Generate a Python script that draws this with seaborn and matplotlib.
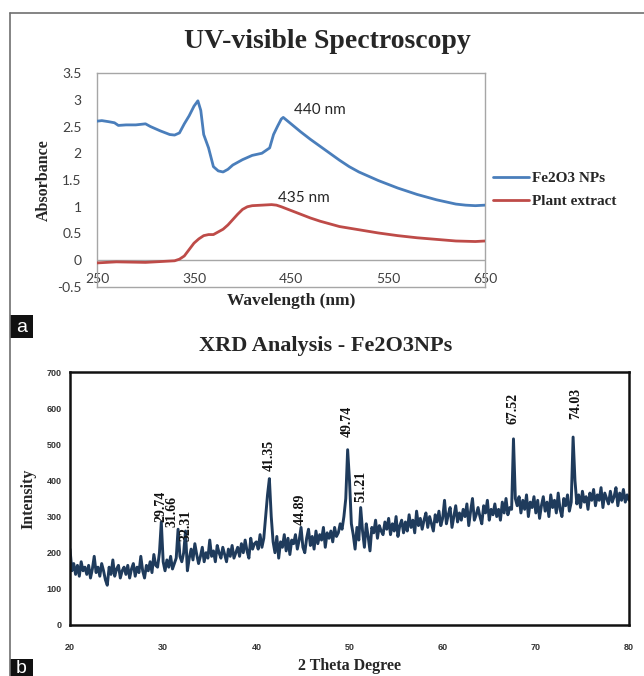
import numpy as np
import pandas as pd
import seaborn as sns
import matplotlib.pyplot as plt
from matplotlib.lines import Line2D
from matplotlib.patches import Rectangle

# ---------------- data: UV-visible ----------------
fe_wavelength = [250, 255, 262, 268, 272, 280, 290, 295, 300, 305, 315, 325, 330, 335, 340,
                 345, 350, 354, 357, 360, 365, 370, 375, 380, 385, 390, 400, 410, 420, 428,
                 432, 436, 440, 442, 450, 460, 470, 480, 490, 500, 510, 520, 530, 540, 550,
                 560, 570, 580, 590, 600, 610, 620, 630, 640, 650]
fe_absorbance = [2.60, 2.61, 2.59, 2.57, 2.52, 2.53, 2.53, 2.54, 2.55, 2.50, 2.42, 2.35, 2.34, 2.38, 2.55,
                 2.70, 2.88, 2.98, 2.80, 2.35, 2.10, 1.75, 1.67, 1.65, 1.70, 1.78, 1.88, 1.96, 2.00, 2.10,
                 2.35, 2.50, 2.64, 2.67, 2.55, 2.40, 2.26, 2.13, 2.00, 1.87, 1.75, 1.65, 1.57, 1.49, 1.42,
                 1.35, 1.29, 1.23, 1.18, 1.13, 1.09, 1.05, 1.03, 1.02, 1.03]

plant_wavelength = [250, 270, 300, 320, 330, 335, 340, 345, 350, 355, 360, 365, 370, 375, 380,
                    385, 390, 395, 400, 405, 410, 420, 430, 435, 440, 450, 460, 470, 480, 490,
                    500, 520, 540, 560, 580, 600, 620, 640, 650]
plant_absorbance = [-0.05, -0.03, -0.04, -0.02, -0.01, 0.02, 0.08, 0.20, 0.32, 0.40, 0.46, 0.48, 0.48, 0.53, 0.58,
                    0.66, 0.76, 0.86, 0.95, 1.00, 1.02, 1.03, 1.04, 1.03, 1.00, 0.93, 0.86, 0.79, 0.73, 0.68,
                    0.63, 0.57, 0.51, 0.46, 0.42, 0.39, 0.36, 0.35, 0.36]

uv_series = ["Fe2O3 NPs", "Plant extract"]
uv_xticks = [250, 350, 450, 550, 650]
uv_yticks = [-0.5, 0, 0.5, 1, 1.5, 2, 2.5, 3, 3.5]
uv_ytick_labels = ["-0.5", "0", "0.5", "1", "1.5", "2", "2.5", "3", "3.5"]
uv_peak_text = ["440 nm", "435 nm"]

# ---------------- data: XRD ----------------
xrd_theta_start, xrd_theta_end, xrd_theta_step = 20.0, 80.0, 0.2
xrd_intensity = [
    210, 150, 170, 140, 165, 135, 175, 150, 160, 140,
    165, 130, 155, 190, 145, 160, 135, 170, 150, 125,
    110, 160, 140, 180, 135, 155, 165, 130, 150, 160,
    140, 165, 130, 155, 170, 135, 160, 145, 190, 150,
    130, 165, 150, 175, 145, 195, 165, 160, 200, 285,
    175, 150, 180, 160, 190, 155, 170, 185, 265, 190,
    175, 200, 260, 150, 185, 210, 180, 225, 195, 170,
    190, 215, 175, 200, 185, 235, 190, 205, 175, 220,
    200, 185, 215, 195, 175, 210, 190, 220, 185, 200,
    215, 190, 225, 200, 235, 205, 185, 240, 210, 225,
    230, 210, 250, 215, 240, 300, 360, 405, 300, 230,
    200, 245, 185, 230, 215, 250, 205, 240, 195, 235,
    225, 250, 210, 235, 270, 215, 200, 240, 265, 220,
    245, 210, 260, 225, 250, 235, 270, 215, 255, 240,
    260, 230, 270, 245, 255, 280, 265, 300, 350, 485,
    400, 280, 250, 210, 270, 235, 325, 260, 215, 280,
    245, 205, 270, 255, 290, 240, 275, 260, 250, 285,
    265, 295, 250, 280, 260, 300, 245, 275, 290, 255,
    285, 260, 305, 270, 290, 255, 315, 275, 295, 265,
    290, 310, 270, 300, 280, 260, 305, 285, 315, 275,
    295, 345, 280, 305, 325, 270, 300, 330, 285, 310,
    290, 320, 300, 335, 275, 315, 350, 290, 305, 325,
    300, 280, 330, 310, 345, 290, 320, 305, 335, 300,
    320, 290, 340, 310, 350, 305, 325, 320, 515, 350,
    330, 355, 310, 345, 320, 360, 300, 340, 325, 355,
    310, 345, 295, 330, 355, 315, 340, 300, 360, 325,
    345, 310, 365, 320, 300, 350, 330, 360, 315, 340,
    520, 400, 335, 360, 325, 370, 340, 355, 320, 365,
    345, 375, 330, 360, 345, 380, 325, 365, 350, 335,
    370, 340, 355, 380, 330, 365, 345, 375, 340, 360,
    345]
xrd_peaks = [29.74, 31.66, 32.31, 41.35, 44.89, 49.74, 51.21, 67.52, 74.03]
xrd_peak_labels = ["29.74", "31.66", "32.31", "41.35", "44.89", "49.74", "51.21", "67.52", "74.03"]
xrd_xticks = [20, 30, 40, 50, 60, 70, 80]
xrd_yticks = [0, 100, 200, 300, 400, 500, 600, 700]

# annotation placement (label x position and text bottom height, data units)
xrd_label_x = [29.74, 31.0, 32.4, 41.35, 44.75, 49.74, 51.21, 67.6, 74.3]
xrd_label_bottom = [285, 272, 232, 427, 277, 521, 341, 557, 571]

# ---------------- styling ----------------
sns.set_style("white")
plt.rcParams["font.family"] = ["DejaVu Sans"]
SERIF = "Liberation Serif"
SANS = "Lato"
BLUE = "#4A7EBB"
RED = "#BE4B48"
NAVY = "#1F3B5C"

W, H = 644, 676
fig = plt.figure(figsize=(W / 100, H / 100), dpi=100)

def fx(px):
    return px / W

def fy(py):
    return 1 - py / H

# ---------- panel a ----------
ax1 = fig.add_axes([fx(97), fy(287), fx(485) - fx(97), fy(73) - fy(287)])
uv_df = pd.concat([
    pd.DataFrame({"Wavelength": fe_wavelength, "Absorbance": fe_absorbance, "Series": uv_series[0]}),
    pd.DataFrame({"Wavelength": plant_wavelength, "Absorbance": plant_absorbance, "Series": uv_series[1]}),
])
ax1.axhline(0, color="#a6a6a6", lw=1.0, zorder=1)
sns.lineplot(data=uv_df, x="Wavelength", y="Absorbance", hue="Series",
             palette={uv_series[0]: BLUE, uv_series[1]: RED}, lw=2.0,
             ax=ax1, legend=False, sort=False, zorder=3)
ax1.set_xlim(250, 650)
ax1.set_ylim(-0.5, 3.5)
ax1.set_xticks(uv_xticks)
ax1.set_xticklabels([str(v) for v in uv_xticks], fontfamily=SANS, fontsize=10, color="#404040")
ax1.set_yticks(uv_yticks)
ax1.set_yticklabels(uv_ytick_labels, fontfamily=SANS, fontsize=10, color="#404040")
ax1.tick_params(axis="x", length=0, pad=-10)
ax1.tick_params(axis="y", length=0, pad=11)
for s in ax1.spines.values():
    s.set_color("#a6a6a6")
    s.set_linewidth(1.0)
ax1.set_xlabel("Wavelength (nm)", fontfamily=SERIF, fontweight="bold", fontsize=12.5, labelpad=4)
ax1.set_ylabel("Absorbance", fontfamily=SERIF, fontweight="bold", fontsize=11.5, labelpad=4)
ax1.text(480, 2.80, uv_peak_text[0], fontfamily=SANS, fontsize=11, ha="center", va="center", color="#262626")
ax1.text(463, 1.17, uv_peak_text[1], fontfamily=SANS, fontsize=11, ha="center", va="center", color="#262626")
handles = [Line2D([], [], color=BLUE, lw=2.0), Line2D([], [], color=RED, lw=2.0)]
ax1.legend(handles, uv_series, loc="center left", bbox_to_anchor=(1.02, 0.455), frameon=False,
           prop={"family": SERIF, "weight": "bold", "size": 11}, handlelength=2.4,
           handletextpad=0.15, borderpad=0, borderaxespad=0, labelspacing=0.6)
fig.text(fx(327), fy(42), "UV-visible Spectroscopy", fontfamily=SERIF, fontweight="bold",
         fontsize=20, ha="center", va="center")

# ---------- panel b ----------
ax2 = fig.add_axes([fx(70), fy(625), fx(629) - fx(70), fy(372) - fy(625)])
theta = np.round(np.arange(xrd_theta_start, xrd_theta_end + 1e-6, xrd_theta_step), 1)
xrd_df = pd.DataFrame({"2 Theta": theta, "Intensity": xrd_intensity})
sns.lineplot(data=xrd_df, x="2 Theta", y="Intensity", color=NAVY, lw=2.1, ax=ax2)
ax2.set_xlim(20, 80)
ax2.set_ylim(0, 700)
ax2.set_xticks(xrd_xticks)
ax2.set_xticklabels([str(v) for v in xrd_xticks], fontfamily="Liberation Sans", fontweight="bold",
                    fontsize=6.5, color="#333333")
ax2.set_yticks(xrd_yticks)
ax2.set_yticklabels([str(v) for v in xrd_yticks], fontfamily="Liberation Sans", fontweight="bold",
                    fontsize=6.5, color="#333333")
ax2.tick_params(axis="x", length=0, pad=13)
ax2.tick_params(axis="y", length=0, pad=6)
for s in ax2.spines.values():
    s.set_color("#111111")
    s.set_linewidth(1.8)
ax2.set_xlabel("2 Theta Degree", fontfamily=SERIF, fontweight="bold", fontsize=11.5, labelpad=4)
ax2.set_ylabel("Intensity", fontfamily=SERIF, fontweight="bold", fontsize=11.5, labelpad=7)
for xp, lab, yb in zip(xrd_label_x, xrd_peak_labels, xrd_label_bottom):
    ax2.text(xp, yb, lab, rotation=90, ha="center", va="bottom", fontfamily=SERIF,
             fontweight="bold", fontsize=10, color="#111111")
fig.text(fx(326), fy(346), "XRD Analysis - Fe2O3NPs", fontfamily=SERIF, fontweight="bold",
         fontsize=16, ha="center", va="center")

# ---------- frame & panel tags ----------
fig.add_artist(Line2D([fx(10), fx(10)], [0, fy(13)], color="#707070", lw=1.2))
fig.add_artist(Line2D([fx(10), 1], [fy(13), fy(13)], color="#707070", lw=1.2))
for tag, top, bot in [("a", 315, 338), ("b", 659, 676)]:
    fig.add_artist(Rectangle((fx(10), fy(bot)), fx(33) - fx(10), fy(top) - fy(bot),
                             transform=fig.transFigure, facecolor="#111111", edgecolor="none"))
    fig.text(fx(21.5), fy((top + bot) / 2 + 1), tag, color="white", fontfamily="Liberation Sans",
             fontsize=14, ha="center", va="center")

fig.savefig("out.png", dpi=100, facecolor="white")
